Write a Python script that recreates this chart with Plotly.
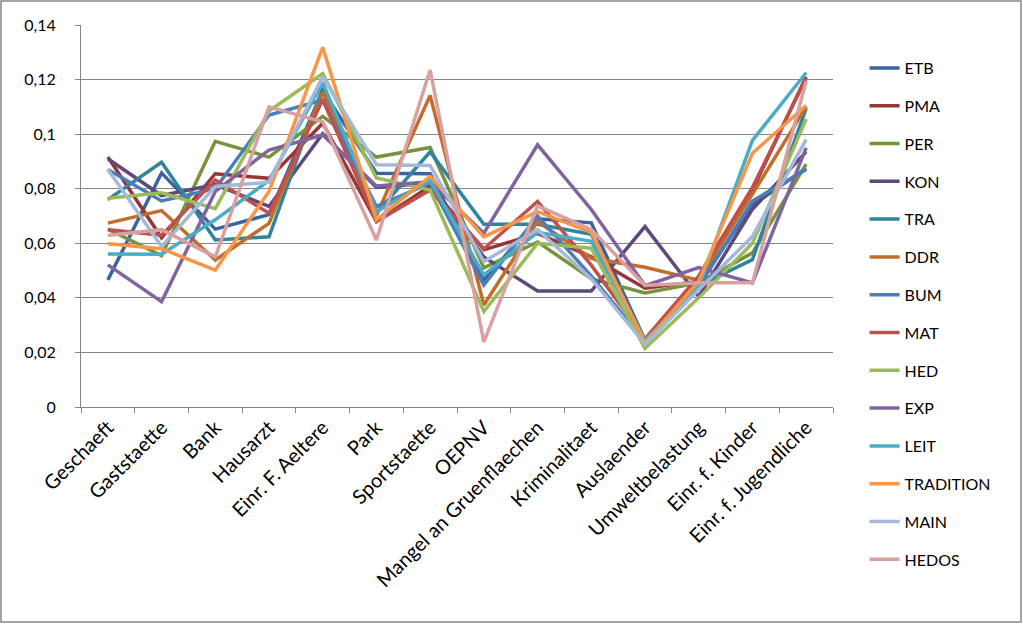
import plotly.graph_objects as go

categories = ["Geschaeft", "Gaststaette", "Bank", "Hausarzt", "Einr. F. Aeltere", "Park",
              "Sportstaette", "OEPNV", "Mangel an Gruenflaechen", "Kriminalitaet",
              "Auslaender", "Umweltbelastung", "Einr. f. Kinder", "Einr. f. Jugendliche"]

ETB = [0.0466, 0.0858, 0.0652, 0.0705, 0.1160, 0.0857, 0.0855, 0.0465, 0.0690, 0.0675, 0.0245, 0.0450, 0.0740, 0.0875]
PMA = [0.0916, 0.0620, 0.0855, 0.0838, 0.1040, 0.0680, 0.0810, 0.0576, 0.0636, 0.0550, 0.0435, 0.0460, 0.0795, 0.1210]
PER = [0.0652, 0.0555, 0.0974, 0.0916, 0.1065, 0.0916, 0.0951, 0.0510, 0.0605, 0.0470, 0.0418, 0.0455, 0.0565, 0.0890]
KON = [0.0910, 0.0775, 0.0815, 0.0735, 0.1002, 0.0805, 0.0820, 0.0550, 0.0425, 0.0425, 0.0661, 0.0405, 0.0725, 0.0935]
TRA = [0.0760, 0.0897, 0.0612, 0.0624, 0.1170, 0.0710, 0.0935, 0.0670, 0.0670, 0.0633, 0.0245, 0.0445, 0.0540, 0.1095]
DDR = [0.0674, 0.0720, 0.0539, 0.0673, 0.1153, 0.0703, 0.1142, 0.0374, 0.0680, 0.0545, 0.0512, 0.0465, 0.0780, 0.1100]
BUM = [0.0870, 0.0755, 0.0800, 0.1070, 0.1125, 0.0735, 0.0820, 0.0447, 0.0700, 0.0480, 0.0240, 0.0440, 0.0755, 0.0870]
MAT = [0.0650, 0.0630, 0.0832, 0.0710, 0.1126, 0.0680, 0.0795, 0.0580, 0.0753, 0.0520, 0.0250, 0.0480, 0.0805, 0.1205]
HED = [0.0765, 0.0785, 0.0727, 0.1085, 0.1222, 0.0839, 0.0795, 0.0350, 0.0600, 0.0582, 0.0215, 0.0400, 0.0600, 0.1055]
EXP = [0.0521, 0.0386, 0.0790, 0.0942, 0.0997, 0.0810, 0.0825, 0.0637, 0.0961, 0.0724, 0.0445, 0.0511, 0.0455, 0.0950]
LEIT = [0.0561, 0.0560, 0.0686, 0.0830, 0.1190, 0.0716, 0.0830, 0.0484, 0.0640, 0.0607, 0.0245, 0.0440, 0.0977, 0.1225]
TRADITION = [0.0598, 0.0580, 0.0502, 0.0790, 0.1318, 0.0686, 0.0845, 0.0624, 0.0716, 0.0640, 0.0235, 0.0460, 0.0930, 0.1105]
MAIN = [0.0870, 0.0588, 0.0808, 0.0824, 0.1210, 0.0888, 0.0885, 0.0533, 0.0650, 0.0470, 0.0230, 0.0430, 0.0625, 0.0980]
HEDOS = [0.0629, 0.0650, 0.0550, 0.1100, 0.1045, 0.0612, 0.1235, 0.0239, 0.0737, 0.0651, 0.0445, 0.0455, 0.0455, 0.1195]

series_names = ["ETB", "PMA", "PER", "KON", "TRA", "DDR", "BUM", "MAT", "HED", "EXP",
                "LEIT", "TRADITION", "MAIN", "HEDOS"]
series_values = [ETB, PMA, PER, KON, TRA, DDR, BUM, MAT, HED, EXP, LEIT, TRADITION, MAIN, HEDOS]
series_colors = ["#3A64A0", "#953735", "#77933C", "#5F497A", "#31849B", "#C46C2A",
                 "#4A7EBB", "#C0504D", "#9BBB59", "#8064A2", "#4BACC6", "#F79646",
                 "#A5B8DA", "#D9A0A0"]

y_tickvals = [0, 0.02, 0.04, 0.06, 0.08, 0.10, 0.12, 0.14]
y_ticktext = ["0", "0,02", "0,04", "0,06", "0,08", "0,1", "0,12", "0,14"]

W, H = 1023, 624
ML, MR, MT, MB = 81, 190, 25, 217

fig = go.Figure()
for name, vals, col in zip(series_names, series_values, series_colors):
    fig.add_trace(go.Scatter(x=categories, y=vals, name=name, mode="lines",
                             line=dict(color=col, width=3.5), legendgroup=name))

font_family = "Lato, 'Open Sans', sans-serif"
pw = W - ML - MR
ph = H - MT - MB
fig.update_layout(
    width=W, height=H,
    margin=dict(l=ML, r=MR, t=MT, b=MB, pad=0, autoexpand=False),
    paper_bgcolor="white", plot_bgcolor="white",
    font=dict(family=font_family, size=15, color="#000000"),
    showlegend=True,
    legend=dict(x=1.042, y=1 + (MT - 51) / ph, xanchor="left", yanchor="top",
                maxheight=600,
                font=dict(size=16, family=font_family),
                tracegroupgap=14, bgcolor="rgba(0,0,0,0)"),
    xaxis=dict(type="category", tickangle=-45, tickson="boundaries",
               ticks="outside", ticklen=5, tickcolor="#868686",
               showline=True, linecolor="#868686", linewidth=1,
               showgrid=False, tickfont=dict(size=20, family=font_family),
               range=[-0.5, 13.5], automargin=False),
    yaxis=dict(range=[0, 0.14], tickvals=y_tickvals, ticktext=y_ticktext,
               ticks="outside", ticklen=5, tickcolor="#868686",
               showline=True, linecolor="#868686", linewidth=1,
               showgrid=True, gridcolor="#868686", gridwidth=1,
               zeroline=False, ticklabelstandoff=16, automargin=False,
               tickfont=dict(size=16, family=font_family)),
    shapes=[dict(type="rect", xref="paper", yref="paper",
                 x0=-(ML - 1) / pw, x1=(W - ML - 2) / pw,
                 y0=-(MB - 2) / ph, y1=(ph + MT - 1) / ph,
                 line=dict(color="#868686", width=1.5), layer="above")],
)

fig.write_html("out.html", config={"displayModeBar": False},
               post_script="document.body.style.margin='0px';")
